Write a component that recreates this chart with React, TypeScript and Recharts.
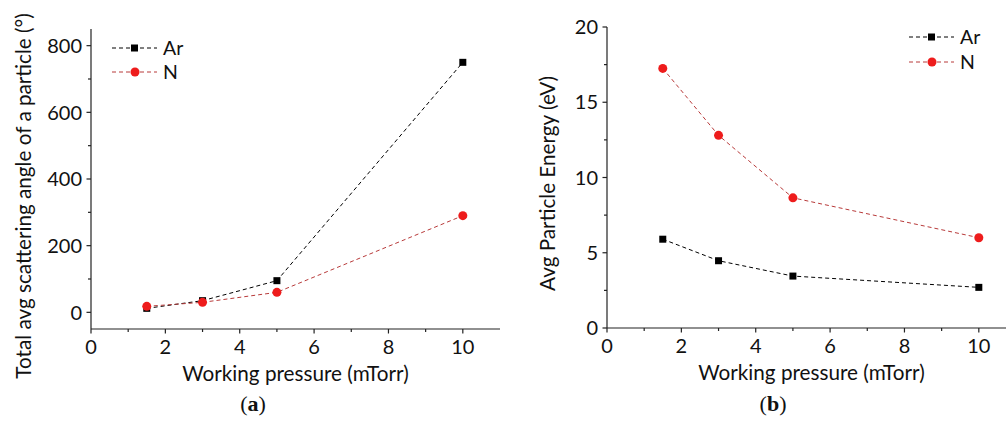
import React from "react";
import { LineChart, Line, XAxis, YAxis, Legend, Label } from "recharts";

const pressure = [1.5, 3, 5, 10];
const arAngle = [12, 35, 95, 750];
const nAngle = [18, 30, 60, 290];
const arEnergy = [5.9, 4.47, 3.45, 2.7];
const nEnergy = [17.25, 12.8, 8.65, 6.0];

const xTicks = [0, 1, 2, 3, 4, 5, 6, 7, 8, 9, 10];
const yTicksA = [0, 100, 200, 300, 400, 500, 600, 700, 800];
const yTicksB = [0, 2.5, 5, 7.5, 10, 12.5, 15, 17.5, 20];
const majorX = [0, 2, 4, 6, 8, 10];
const majorYA = [0, 200, 400, 600, 800];
const majorYB = [0, 5, 10, 15, 20];

const dataA = pressure.map((p, i) => ({ p, ar: arAngle[i], n: nAngle[i] }));
const dataB = pressure.map((p, i) => ({ p, ar: arEnergy[i], n: nEnergy[i] }));

const FONT = "Lato, 'Open Sans', sans-serif";
const AXIS = "#222";
const RED_LINE = "#b83a3a";
const RED_DOT = "#ee1c1c";
const TICK_FS = 20;
const LABEL_FS = 20.7;

const makeXTick = (majors: number[]) => (props: any) => {
  const { x, y, payload } = props;
  const v = payload.value;
  const major = majors.includes(v);
  return (
    <g>
      <line x1={x} x2={x} y1={y} y2={y + (major ? 4.5 : 3)} stroke={AXIS} strokeWidth={1.2} />
      {major && (
        <text x={x} y={y + 11} dy="0.71em" textAnchor="middle" fontFamily={FONT} fontSize={TICK_FS} fill="#111">
          {v}
        </text>
      )}
    </g>
  );
};

const makeYTick = (majors: number[]) => (props: any) => {
  const { x, y, payload } = props;
  const v = payload.value;
  const major = majors.includes(v);
  return (
    <g>
      <line x1={x} x2={x - (major ? 4.5 : 3)} y1={y} y2={y} stroke={AXIS} strokeWidth={1.2} />
      {major && (
        <text x={x - 9} y={y} dy="0.36em" textAnchor="end" fontFamily={FONT} fontSize={TICK_FS} fill="#111">
          {v}
        </text>
      )}
    </g>
  );
};

const ArDot = (p: any) => (
  <rect key={`ar-${p.index}`} x={p.cx - 3.5} y={p.cy - 3.5} width={7} height={7} fill="#000" />
);
const NDot = (p: any) => <circle key={`n-${p.index}`} cx={p.cx} cy={p.cy} r={4.5} fill={RED_DOT} />;

const makeXLabel = (text: string) => (props: any) => {
  const vb = props.viewBox;
  return (
    <text x={vb.x + vb.width / 2} y={vb.y + 52} textAnchor="middle" fontFamily={FONT} fontSize={LABEL_FS} fill="#111">
      {text}
    </text>
  );
};

const makeYLabel = (text: string, cx: number, dyc: number) => (props: any) => {
  const vb = props.viewBox;
  const cy = vb.y + vb.height / 2 + dyc;
  return (
    <text
      x={cx}
      y={cy}
      dy="0.36em"
      transform={`rotate(-90 ${cx} ${cy})`}
      textAnchor="middle"
      fontFamily={FONT}
      fontSize={LABEL_FS}
      fill="#111"
    >
      {text}
    </text>
  );
};

const makeLegend = (gap: number) => () => (
  <svg width={90} height={gap + 24} style={{ display: "block" }}>
    <line x1={0} x2={45} y1={12} y2={12} stroke="#000" strokeWidth={1} strokeDasharray="4 3" />
    <rect x={19} y={8.5} width={7} height={7} fill="#000" />
    <text x={51} y={12} dy="0.36em" fontFamily={FONT} fontSize={19.5} fill="#111">Ar</text>
    <line x1={0} x2={45} y1={12 + gap} y2={12 + gap} stroke={RED_LINE} strokeWidth={1} strokeDasharray="4 3" />
    <circle cx={23} cy={12 + gap} r={4.5} fill={RED_DOT} />
    <text x={51} y={12 + gap} dy="0.36em" fontFamily={FONT} fontSize={19.5} fill="#111">N</text>
  </svg>
);

export default function App() {
  return (
    <div style={{ position: "absolute", left: 0, top: 0, width: 1006, height: 423, background: "#fff", overflow: "hidden" }}>
      <div style={{ position: "absolute", left: 0, top: 0, width: 502, height: 423 }}>
        <LineChart width={502} height={423} data={dataA} margin={{ top: 29, right: 2, left: 0, bottom: 34 }}>
          <XAxis
            dataKey="p"
            type="number"
            domain={[0, 11]}
            ticks={xTicks}
            interval={0}
            tickSize={0}
            tickMargin={0}
            tickLine={false}
            height={60}
            stroke={AXIS}
            strokeWidth={1.2}
            tick={makeXTick(majorX)}
            label={<Label content={makeXLabel("Working pressure (mTorr)")} />}
          />
          <YAxis
            type="number"
            domain={[-50, 850]}
            ticks={yTicksA}
            interval={0}
            width={91}
            tickSize={0}
            tickMargin={0}
            tickLine={false}
            stroke={AXIS}
            strokeWidth={1.2}
            tick={makeYTick(majorYA)}
            label={<Label content={makeYLabel("Total avg scattering angle of a particle (°)", 24, 17)} />}
          />
          <Legend
            layout="vertical"
            align="center"
            verticalAlign="middle"
            content={makeLegend(24)}
            wrapperStyle={{ top: 36, left: 112, width: 90 }}
          />
          <Line dataKey="ar" name="Ar" stroke="#000" strokeWidth={1} strokeDasharray="4 3" dot={ArDot} isAnimationActive={false} />
          <Line dataKey="n" name="N" stroke={RED_LINE} strokeWidth={1} strokeDasharray="4 3" dot={NDot} isAnimationActive={false} />
        </LineChart>
      </div>
      <div style={{ position: "absolute", left: 500, top: 0, width: 506, height: 423, overflow: "hidden" }}>
        <LineChart width={516} height={423} data={dataB} margin={{ top: 27, right: 0, left: 0, bottom: 35 }}>
          <XAxis
            dataKey="p"
            type="number"
            domain={[0, 11]}
            ticks={xTicks}
            interval={0}
            tickSize={0}
            tickMargin={0}
            tickLine={false}
            height={60}
            stroke={AXIS}
            strokeWidth={1.2}
            tick={makeXTick(majorX)}
            label={<Label content={makeXLabel("Working pressure (mTorr)")} />}
          />
          <YAxis
            type="number"
            domain={[0, 20]}
            ticks={yTicksB}
            interval={0}
            width={107}
            tickSize={0}
            tickMargin={0}
            tickLine={false}
            stroke={AXIS}
            strokeWidth={1.2}
            tick={makeYTick(majorYB)}
            label={<Label content={makeYLabel("Avg Particle Energy (eV)", 48, 6)} />}
          />
          <Legend
            layout="vertical"
            align="center"
            verticalAlign="middle"
            content={makeLegend(25)}
            wrapperStyle={{ top: 25, left: 409, width: 90 }}
          />
          <Line dataKey="ar" name="Ar" stroke="#000" strokeWidth={1} strokeDasharray="4 3" dot={ArDot} isAnimationActive={false} />
          <Line dataKey="n" name="N" stroke={RED_LINE} strokeWidth={1} strokeDasharray="4 3" dot={NDot} isAnimationActive={false} />
        </LineChart>
      </div>
      <div style={{ position: "absolute", left: 203, top: 391, width: 100, textAlign: "center", fontFamily: "'Liberation Serif', serif", fontSize: 22, color: "#111" }}>
        (<b>a</b>)
      </div>
      <div style={{ position: "absolute", left: 723, top: 391, width: 100, textAlign: "center", fontFamily: "'Liberation Serif', serif", fontSize: 22, color: "#111" }}>
        (<b>b</b>)
      </div>
    </div>
  );
}
